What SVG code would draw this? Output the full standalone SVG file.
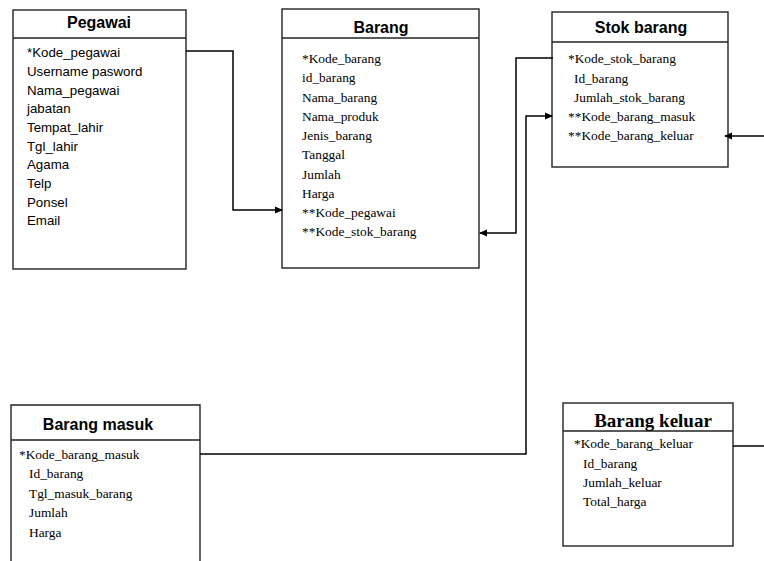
<svg xmlns="http://www.w3.org/2000/svg" width="764" height="561" viewBox="0 0 764 561">
<defs>
<marker id="arr" markerWidth="8" markerHeight="8" refX="7" refY="4" orient="auto" markerUnits="userSpaceOnUse">
<path d="M0,0.5 L8,4 L0,7.5 Z" fill="#000"/>
</marker>
<style>
.box{fill:#fff;stroke:#222;stroke-width:1.4}
.sep{stroke:#222;stroke-width:1.4}
.ts{font-family:"Liberation Sans",Arial,sans-serif;font-weight:bold;font-size:16px;fill:#000;text-anchor:middle}
.tt{font-family:"Liberation Serif","Times New Roman",serif;font-weight:bold;font-size:19px;fill:#000;text-anchor:middle}
.fs{font-family:"Liberation Sans",Arial,sans-serif;font-size:13.3px;fill:#000}
.ft{font-family:"Liberation Serif","Times New Roman",serif;font-size:13.4px;fill:#000}
.cn{fill:none;stroke:#000;stroke-width:1.5}
</style>
</defs>
<rect width="764" height="561" fill="#fff"/>
<g id="pegawai">
<rect class="box" x="13" y="10" width="173" height="259"/>
<line class="sep" x1="13" y1="38" x2="186" y2="38"/>
<text class="ts" x="99" y="28">Pegawai</text>
<text class="fs" x="27" y="57">*Kode_pegawai</text>
<text class="fs" x="27" y="76">Username pasword</text>
<text class="fs" x="27" y="94.5">Nama_pegawai</text>
<text class="fs" x="27" y="113">jabatan</text>
<text class="fs" x="27" y="132">Tempat_lahir</text>
<text class="fs" x="27" y="150.5">Tgl_lahir</text>
<text class="fs" x="27" y="169">Agama</text>
<text class="fs" x="27" y="188">Telp</text>
<text class="fs" x="27" y="206.5">Ponsel</text>
<text class="fs" x="27" y="225">Email</text>
</g>
<g id="barang">
<rect class="box" x="282" y="9" width="197" height="259"/>
<line class="sep" x1="282" y1="38" x2="479" y2="38"/>
<text class="ts" x="381" y="33">Barang</text>
<text class="ft" x="302" y="63">*Kode_barang</text>
<text class="ft" x="302" y="82">id_barang</text>
<text class="ft" x="302" y="101.5">Nama_barang</text>
<text class="ft" x="302" y="121">Nama_produk</text>
<text class="ft" x="302" y="140">Jenis_barang</text>
<text class="ft" x="302" y="159">Tanggal</text>
<text class="ft" x="302" y="178.5">Jumlah</text>
<text class="ft" x="302" y="198">Harga</text>
<text class="ft" x="302" y="217">**Kode_pegawai</text>
<text class="ft" x="302" y="236">**Kode_stok_barang</text>
</g>
<g id="stok-barang">
<rect class="box" x="552" y="12" width="176" height="155"/>
<line class="sep" x1="552" y1="42" x2="728" y2="42"/>
<text class="ts" x="641" y="33">Stok barang</text>
<text class="ft" x="568" y="63">*Kode_stok_barang</text>
<text class="ft" x="574" y="83">Id_barang</text>
<text class="ft" x="574" y="102">Jumlah_stok_barang</text>
<text class="ft" x="568" y="121">**Kode_barang_masuk</text>
<text class="ft" x="568" y="140">**Kode_barang_keluar</text>
</g>
<g id="barang-masuk">
<path class="box" d="M11,562 V405 H200 V562"/>
<line class="sep" x1="11" y1="440" x2="200" y2="440"/>
<text class="ts" x="98" y="430">Barang masuk</text>
<text class="ft" x="19" y="459">*Kode_barang_masuk</text>
<text class="ft" x="29" y="478">Id_barang</text>
<text class="ft" x="29" y="498">Tgl_masuk_barang</text>
<text class="ft" x="29" y="517">Jumlah</text>
<text class="ft" x="29" y="537">Harga</text>
</g>
<g id="barang-keluar">
<rect class="box" x="563" y="403" width="170" height="143"/>
<line class="sep" x1="563" y1="431" x2="733" y2="431"/>
<text class="tt" x="653" y="427">Barang keluar</text>
<text class="ft" x="574" y="448">*Kode_barang_keluar</text>
<text class="ft" x="583" y="468">Id_barang</text>
<text class="ft" x="583" y="487">Jumlah_keluar</text>
<text class="ft" x="583" y="506">Total_harga</text>
</g>
<g id="connectors">
<path class="cn" d="M186,51 H233 V210 H282" marker-end="url(#arr)"/>
<path class="cn" d="M553,58 H516 V233 H480" marker-end="url(#arr)"/>
<path class="cn" d="M200,454 H526 V116 H552" marker-end="url(#arr)"/>
<path class="cn" d="M764,136 H725" marker-end="url(#arr)"/>
<path class="cn" d="M733,446 H764"/>
</g>
</svg>
